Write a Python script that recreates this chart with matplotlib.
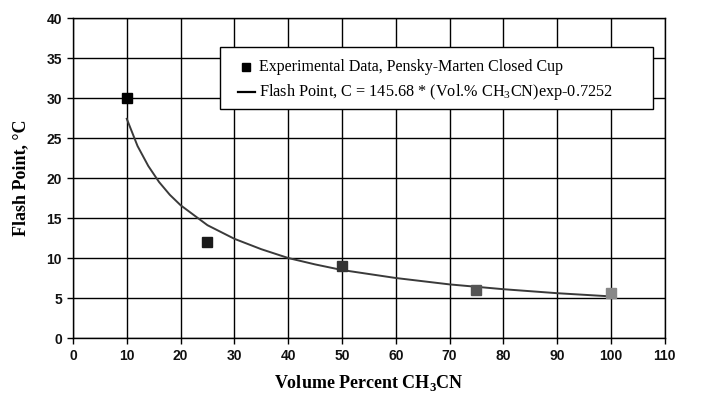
import numpy as np
import matplotlib.pyplot as plt
from matplotlib.patches import Rectangle

plt.rcParams['mathtext.fontset'] = 'custom'
plt.rcParams['mathtext.rm'] = 'Liberation Serif'
plt.rcParams['mathtext.bf'] = 'Liberation Serif:bold'

# experimental points
exp_x = [10, 25, 50, 75, 100]
exp_y = [30, 12, 9, 6, 5.6]
exp_colors = ['#000000', '#1a1a1a', '#333333', '#555555', '#888888']

# fitted curve
fit_x = [10, 12, 14, 16, 18, 20, 25, 30, 35, 40, 45, 50, 60, 70, 80, 90, 100]
fit_y = [27.4, 24.0, 21.5, 19.5, 17.9, 16.6, 14.1, 12.4, 11.1, 10.0, 9.2,
         8.5, 7.5, 6.7, 6.1, 5.6, 5.2]

xticks = list(range(0, 111, 10))
yticks = list(range(0, 41, 5))

fig = plt.figure(figsize=(7.05, 4.11), dpi=100)
ax = fig.add_axes([0.1035, 0.1776, 0.8395, 0.7786])

ax.plot(fit_x, fit_y, color='#3a3a3a', lw=1.4, zorder=3)
for x, y, c in zip(exp_x, exp_y, exp_colors):
    ax.plot(x, y, marker='s', ms=7, color=c, ls='none', zorder=4)

ax.set_xlim(0, 110)
ax.set_ylim(0, 40)
ax.set_xticks(xticks)
ax.set_yticks(yticks)
ax.grid(True, color='black', lw=1.0)
ax.set_axisbelow(True)
for s in ax.spines.values():
    s.set_linewidth(1.0)
ax.tick_params(direction='out', length=4, width=1.0, pad=4)
for lab in ax.get_xticklabels() + ax.get_yticklabels():
    lab.set_fontfamily('Liberation Sans')
    lab.set_fontweight('bold')
    lab.set_fontsize(10)
    lab.set_color('#111111')

serif = 'Liberation Serif'
ax.set_xlabel(r'Volume Percent CH$_\mathbf{3}$CN', fontfamily=serif, fontsize=13,
              fontweight='bold', labelpad=7)
ax.set_ylabel('Flash Point, °C', fontfamily=serif, fontsize=13,
              fontweight='bold', labelpad=12)

# legend box
ax.add_patch(Rectangle((27.3, 28.6), 80.5, 7.8, facecolor='white',
                       edgecolor='black', lw=1.0, zorder=5))
ax.plot(32.2, 33.9, marker='s', ms=6, color='black', zorder=6)
ax.plot([30.6, 33.8], [30.8, 30.8], color='black', lw=1.6, zorder=6)
ax.text(34.5, 33.9, 'Experimental Data, Pensky-Marten Closed Cup',
        fontfamily=serif, fontsize=11.5, va='center', zorder=6)
ax.text(34.5, 30.8, 'Flash Point, C = 145.68 * (Vol.% CH$_3$CN)exp-0.7252',
        fontfamily=serif, fontsize=11.7, va='center', zorder=6)

fig.savefig('out.png', dpi=100)
